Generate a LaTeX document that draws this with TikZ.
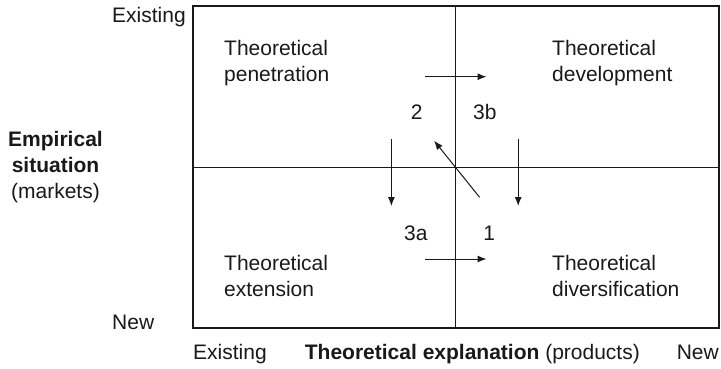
\documentclass[tikz,border=0pt]{standalone}
\usepackage{fontspec}
\setmainfont{Liberation Sans}
\usetikzlibrary{positioning,arrows.meta}

\begin{document}
\begin{tikzpicture}[
  x=1pt, y=-1pt,
  font=\fontsize{21}{26}\selectfont,
  every node/.style={inner sep=0pt, text=black!90},
  quad/.style  ={align=left, anchor=north west},
  num/.style   ={anchor=base},
  lab/.style   ={anchor=base west},
  frame/.style ={draw=black!90, line width=1.3pt},
  split/.style ={draw=black!90, line width=0.9pt},
  flow/.style  ={draw=black!90, line width=1pt, -{Latex[length=9pt,width=7pt]}},
]
\useasboundingbox (0,0) rectangle (721,368);

% --- Cadre de la matrice ---
\coordinate (nw)  at (193,6);
\coordinate (se)  at (719,328);
\coordinate (mid) at (455,167.5);
\draw[frame] (nw) rectangle (se);
\draw[split] (nw -| mid) -- (se -| mid);
\draw[split] (nw |- mid) -- (se |- mid);

% --- Quadrants ---
\node[quad] (pen) at (224,40)    {Theoretical\\penetration};
\node[quad] (dev) at (552,40)    {Theoretical\\development};
\node[quad] (ext) at (224,255.5) {Theoretical\\extension};
\node[quad] (div) at (552,255.5) {Theoretical\\diversification};

% --- Numeros des trajectoires ---
\node[num] (n2)  at (416.6,119.3) {2};
\node[num] (n3b) at (484.8,119.3) {3b};
\node[num] (n3a) at (415.9,240)   {3a};
\node[num] (n1)  at (489.2,240)   {1};

% --- Points des fleches ---
\coordinate (top-a) at (425.2,76.7);
\coordinate (top-b) at (486.5,76.7);
\coordinate (bot-a) at (425.2,259);
\coordinate (bot-b) at (486.5,259);
\coordinate (dl-a)  at (391.4,139.3);
\coordinate (dl-b)  at (391.4,206);
\coordinate (dr-a)  at (518.2,139.3);
\coordinate (dr-b)  at (518.2,206);
\coordinate (dg-a)  at (479.6,197.3);
\coordinate (dg-b)  at (434.1,140.7);

% --- Fleches ---
\draw[flow] (top-a) -- (top-b);
\draw[flow] (bot-a) -- (bot-b);
\draw[flow] (dl-a) -- (dl-b);
\draw[flow] (dr-a) -- (dr-b);
\draw[flow] (dg-a) -- (dg-b);

% --- Axe vertical ---
\node[lab] (ey) at (112,22.7) {Existing};
\node[lab] (ny) at (112,329)  {New};
\node[align=center, anchor=north] (emp) at (55.5,131.5)
  {\textbf{Empirical}\\\textbf{situation}\\(markets)};

% --- Axe horizontal ---
\node[lab] (ex)   at (193,359)   {Existing};
\node[lab] (expl) at (304.7,359) {\textbf{Theoretical explanation} (products)};
\node[anchor=base east] (nx) at (719,359) {New};

\end{tikzpicture}
\end{document}
